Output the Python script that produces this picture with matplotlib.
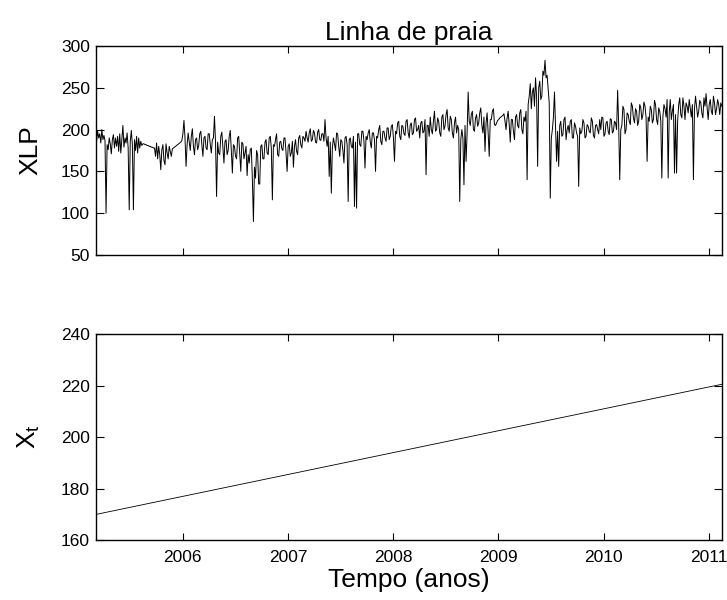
import matplotlib
matplotlib.use("Agg")
import matplotlib.pyplot as plt
import numpy as np

plt.rcParams['font.family'] = ['Liberation Sans', 'DejaVu Sans']
plt.rcParams['mathtext.fontset'] = 'custom'
plt.rcParams['mathtext.rm'] = 'Liberation Sans'
plt.rcParams['mathtext.it'] = 'Liberation Sans'

# linha de praia observada (XLP), amostras a cada 0.01 ano
t0 = 2005.172
dt = 0.01
xlp = [
    192, 186, 198, 190, 195, 184, 200, 188, 193, 187, 100, 182, 176, 190, 183, 171, 188, 194, 178, 190,
    180, 192, 174, 195, 172, 188, 205, 179, 190, 184, 196, 178, 104, 186, 199, 182, 104, 188, 175, 192,
    172, 190, 178, 186, 181, 183, 183, 182, 182, 181, 181, 180, 180, 179, 179, 178, 178, 168, 184, 165,
    180, 170, 152, 176, 182, 163, 158, 183, 172, 165, 180, 174, 168, 177, 178, 179, 180, 181, 182, 183,
    184, 185, 187, 195, 211, 190, 156, 182, 196, 185, 175, 192, 201, 180, 170, 188, 190, 176, 181, 195,
    198, 182, 168, 190, 192, 178, 176, 195, 195, 182, 172, 188, 190, 216, 185, 120, 185, 172, 170, 192,
    197, 178, 160, 186, 188, 170, 175, 192, 199, 175, 148, 182, 180, 168, 165, 190, 192, 172, 150, 185,
    183, 165, 172, 180, 145, 170, 160, 176, 178, 140, 90, 155, 142, 175, 170, 135, 135, 180, 182, 165,
    165, 185, 188, 172, 170, 190, 192, 178, 116, 182, 180, 188, 195, 170, 168, 185, 186, 177, 175, 190,
    190, 172, 150, 180, 183, 168, 172, 186, 155, 180, 188, 174, 170, 190, 193, 182, 178, 192, 190, 186,
    198, 190, 185, 196, 201, 186, 188, 199, 196, 185, 184, 197, 200, 188, 187, 195, 195, 186, 212, 190,
    180, 192, 144, 185, 124, 178, 190, 183, 175, 196, 195, 180, 168, 188, 186, 175, 160, 190, 192, 182,
    114, 188, 190, 180, 178, 192, 108, 185, 106, 195, 195, 182, 180, 198, 198, 186, 154, 192, 188, 196,
    200, 185, 178, 196, 196, 188, 150, 192, 190, 200, 205, 186, 182, 198, 198, 190, 186, 202, 202, 188,
    192, 204, 206, 190, 162, 198, 195, 208, 210, 192, 188, 205, 204, 195, 193, 210, 212, 196, 190, 206,
    208, 194, 196, 212, 214, 198, 200, 205, 190, 208, 210, 196, 198, 212, 146, 205, 205, 192, 215, 200,
    195, 210, 222, 198, 200, 214, 210, 196, 192, 215, 218, 200, 204, 218, 224, 202, 198, 216, 212, 196,
    190, 208, 215, 196, 205, 200, 114, 188, 200, 190, 134, 205, 162, 196, 245, 210, 205, 218, 222, 200,
    198, 214, 218, 204, 208, 220, 226, 205, 196, 215, 174, 208, 220, 196, 168, 212, 212, 222, 225, 206,
    205, 208, 211, 212, 214, 215, 216, 217, 219, 210, 200, 214, 222, 206, 185, 212, 212, 198, 188, 215,
    218, 205, 202, 220, 224, 200, 195, 215, 210, 222, 140, 230, 240, 255, 225, 245, 250, 228, 262, 240,
    156, 250, 258, 236, 240, 270, 265, 283, 262, 265, 248, 232, 118, 190, 200, 215, 245, 205, 162, 198,
    156, 205, 210, 192, 194, 212, 215, 188, 200, 205, 196, 210, 212, 190, 190, 208, 204, 196, 192, 132,
    202, 195, 198, 212, 208, 190, 192, 206, 204, 198, 196, 214, 210, 193, 190, 205, 206, 200, 195, 212,
    200, 215, 214, 192, 195, 208, 210, 198, 194, 213, 212, 196, 198, 210, 208, 200, 247, 205, 140, 200,
    205, 228, 224, 195, 200, 220, 218, 210, 206, 232, 228, 214, 208, 225, 222, 205, 210, 230, 226, 212,
    218, 233, 228, 215, 162, 215, 210, 228, 224, 208, 212, 235, 230, 212, 206, 226, 222, 210, 142, 215,
    230, 225, 215, 236, 142, 220, 236, 212, 222, 230, 148, 218, 148, 210, 230, 238, 218, 214, 238, 228,
    212, 232, 228, 220, 236, 225, 215, 230, 140, 225, 240, 228, 215, 222, 235, 232, 220, 214, 238, 228,
    243, 226, 212, 230, 236, 222, 218, 240, 232, 218, 225, 236, 230, 218, 232, 228,
]
t = t0 + dt * np.arange(len(xlp))

# tendencia linear Xt
tend_t = [2005.172, 2011.124]
tend_x = [169.9, 220.5]

anos = [2006, 2007, 2008, 2009, 2010, 2011]
xlim = (2005.172, 2011.124)

fig = plt.figure(figsize=(7.27, 6.0), dpi=100)
ax1 = fig.add_axes([0.1314, 0.575, 0.8618, 0.3483])
ax2 = fig.add_axes([0.1314, 0.100, 0.8618, 0.3433])

ax1.plot(t, xlp, color='k', lw=0.7)
ax1.set_xlim(xlim)
ax1.set_ylim(50, 300)
ax1.set_yticks(range(50, 301, 50))
ax1.set_xticks(anos)
ax1.set_xticklabels([])
ax1.set_ylabel('XLP', fontsize=19)
ax1.set_title('Linha de praia', fontsize=19, pad=4)

ax2.plot(tend_t, tend_x, color='k', lw=0.6)
ax2.set_xlim(xlim)
ax2.set_ylim(160, 240)
ax2.set_yticks(range(160, 241, 20))
ax2.set_xticks(anos)
ax2.set_ylabel(r'X$_\mathregular{t}$', fontsize=19)
ax2.set_xlabel('Tempo (anos)', fontsize=19, labelpad=2)

for ax in (ax1, ax2):
    ax.tick_params(direction='in', top=True, right=True, labelsize=12.5,
                   width=0.8, color='k')
    ax.tick_params(axis='y', length=6, pad=4)
    ax.tick_params(axis='x', length=5, pad=7)
    for s in ax.spines.values():
        s.set_linewidth(1.0)
    ax.yaxis.set_label_coords(-0.085, 0.5)

fig.savefig('out.png', dpi=100)
